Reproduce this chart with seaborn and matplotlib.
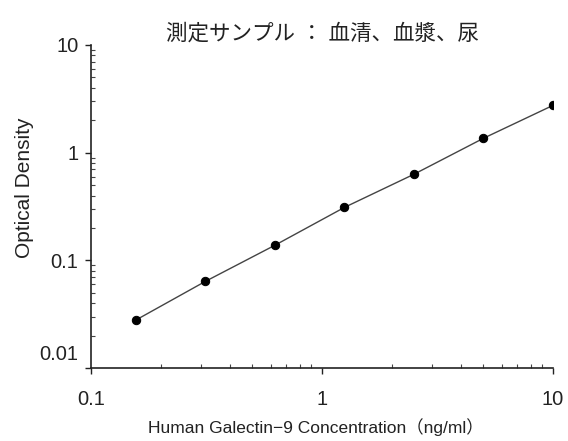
import matplotlib
matplotlib.use("Agg")
import matplotlib.pyplot as plt
import matplotlib.transforms as mtransforms
from matplotlib.ticker import LogLocator, NullFormatter, FixedLocator
import seaborn as sns
import pandas as pd

# Data
concentration = [0.156, 0.3125, 0.625, 1.25, 2.5, 5.0, 10.0]
optical_density = [0.0278, 0.0637, 0.138, 0.31, 0.63, 1.36, 2.75]
x_ticks = [0.1, 1, 10]
x_tick_labels = ["0.1", "1", "10"]
y_ticks = [0.01, 0.1, 1, 10]
y_tick_labels = ["0.01", "0.1", "1", "10"]
title = "測定サンプル ： 血清、血漿、尿"
x_label = "Human Galectin−9 Concentration（ng/ml）"
y_label = "Optical Density"

sns.set_style("ticks")
plt.rcParams['font.family'] = ['Liberation Sans', 'Noto Sans CJK JP', 'DejaVu Sans']

df = pd.DataFrame({"conc": concentration, "od": optical_density})

fig = plt.figure(figsize=(5.68, 4.41), dpi=100)
W, H = 568, 441
x0, x1, y0, y1 = 91, 553, 368, 45
ax = fig.add_axes([x0/W, 1-y0/H, (x1-x0)/W, (y0-y1)/H])

sns.lineplot(data=df, x="conc", y="od", ax=ax, color="#444444", linewidth=1.0,
             marker="o", markersize=6, markerfacecolor="black", markeredgecolor="black")

ax.set_xscale("log")
ax.set_yscale("log")
ax.set_xlim(0.1, 10)
ax.set_ylim(0.01, 10)

ax.xaxis.set_major_locator(FixedLocator(x_ticks))
ax.set_xticklabels(x_tick_labels)
ax.yaxis.set_major_locator(FixedLocator(y_ticks))
ax.set_yticklabels(y_tick_labels)
ax.xaxis.set_minor_locator(LogLocator(base=10, subs=range(2, 10)))
ax.yaxis.set_minor_locator(LogLocator(base=10, subs=range(2, 10)))
ax.xaxis.set_minor_formatter(NullFormatter())
ax.yaxis.set_minor_formatter(NullFormatter())

ax.tick_params(which="major", direction="out", length=4, width=1, colors="#222222", labelsize=14.5)
ax.tick_params(which="minor", direction="in", length=3, width=0.8, colors="#444444")
ax.tick_params(axis="x", which="major", pad=12)
ax.tick_params(axis="y", which="major", pad=5)

for side in ["top", "right"]:
    ax.spines[side].set_visible(False)
for side in ["left", "bottom"]:
    ax.spines[side].set_linewidth(1.2)
    ax.spines[side].set_color("#222222")

ax.set_xlabel(x_label, fontsize=12.5, color="#222222")
ax.set_ylabel(y_label, fontsize=15, color="#222222")
ax.xaxis.set_label_coords((316 - x0) / (x1 - x0), (y0 - 418) / (y0 - y1))
ax.yaxis.set_label_coords((34 - x0) / (x1 - x0), (y0 - 188) / (y0 - y1))
ax.set_title(title, fontsize=15.5, color="#222222", pad=3,
             x=(322 - x0) / (x1 - x0))

# shift lowest y tick label upward as in reference
fig.canvas.draw()
for lbl in ax.get_yticklabels():
    if lbl.get_text() == "0.01":
        lbl.set_transform(lbl.get_transform() + mtransforms.ScaledTranslation(0, 15/100, fig.dpi_scale_trans))

fig.savefig("out.png", dpi=100)
